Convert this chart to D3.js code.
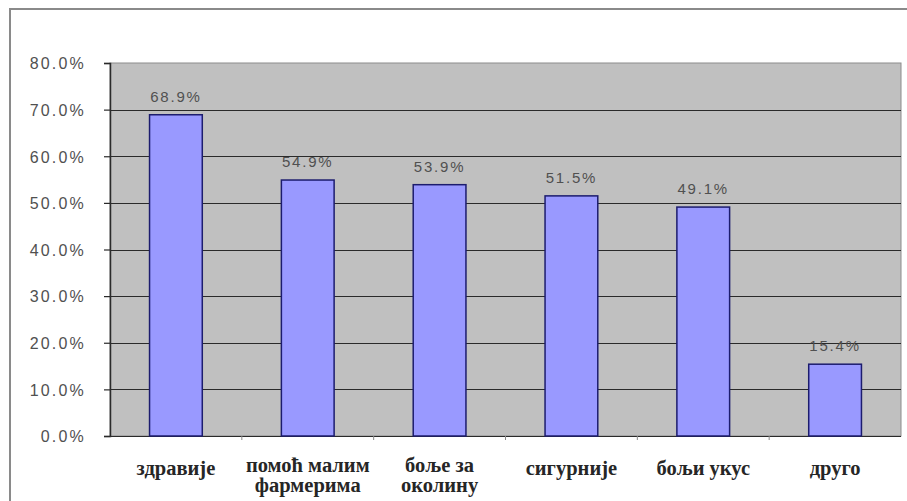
<!DOCTYPE html>
<html>
<head>
<meta charset="utf-8">
<script src="https://cdn.jsdelivr.net/npm/d3@7"></script>
<style>
  body { margin: 0; background: #fff; }
  svg { display: block; }
</style>
</head>
<body>
<div id="container"></div>
<script>
const categories = [
    ["здравије"],
    ["помоћ малим", "фармерима"],
    ["боље за", "околину"],
    ["сигурније"],
    ["бољи укус"],
    ["друго"]
];
const values = [68.9, 54.9, 53.9, 51.5, 49.1, 15.4];
const yTicks = [0, 10, 20, 30, 40, 50, 60, 70, 80];

const width = 907;
const height = 501;
const plot = { left: 110, right: 901, top: 63, bottom: 436 };

const svg = d3.select('#container').append('svg')
    .attr('width', width)
    .attr('height', height);

// outer frame
svg.append('rect')
    .attr('x', 10)
    .attr('y', 9)
    .attr('width', 905)
    .attr('height', 520)
    .attr('fill', 'none')
    .attr('stroke', '#8a8a8a')
    .attr('stroke-width', 2);

const xScale = d3.scaleBand()
    .range([plot.left, plot.right])
    .domain(d3.range(categories.length))
    .paddingInner(0.6)
    .paddingOuter(0.3);

const yScale = d3.scaleLinear()
    .range([plot.bottom, plot.top])
    .domain([0, 80]);

// plot background
svg.append('rect')
    .attr('x', plot.left)
    .attr('y', plot.top)
    .attr('width', plot.right - plot.left)
    .attr('height', plot.bottom - plot.top)
    .attr('fill', '#c0c0c0')
    .attr('stroke', '#8c8c8c')
    .attr('stroke-width', 1);

// grid lines
svg.append('g')
    .selectAll('line')
    .data(yTicks.filter(t => t > 0 && t < 80))
    .enter()
    .append('line')
    .attr('x1', plot.left)
    .attr('x2', plot.right)
    .attr('y1', d => Math.round(yScale(d)) + 0.5)
    .attr('y2', d => Math.round(yScale(d)) + 0.5)
    .attr('stroke', '#2a2a2a')
    .attr('stroke-width', 1.2);

// y axis
const yAxis = svg.append('g')
    .attr('transform', `translate(${plot.left}, 0)`)
    .call(d3.axisLeft(yScale)
        .tickValues(yTicks)
        .tickSize(6)
        .tickPadding(18)
        .tickFormat(d => d.toFixed(1) + '%'));
yAxis.attr('font-family', null).attr('font-size', null);
yAxis.select('.domain').attr('stroke', '#2a2a2a').attr('stroke-width', 1.5);
yAxis.selectAll('.tick line').attr('stroke', '#2a2a2a').attr('stroke-width', 1.2);
yAxis.selectAll('.tick text')
    .style('font-family', "'Liberation Sans'")
    .style('font-size', '16px')
    .style('letter-spacing', '2.2px')
    .attr('fill', '#505050')
    .attr('dy', '0.36em');

// x axis baseline and ticks between categories
const step = xScale.step();
const xTicks = d3.range(1, categories.length).map(i => plot.left + i * step);
svg.append('line')
    .attr('x1', plot.left)
    .attr('x2', plot.right)
    .attr('y1', plot.bottom + 0.5)
    .attr('y2', plot.bottom + 0.5)
    .attr('stroke', '#2a2a2a')
    .attr('stroke-width', 1.2);
svg.append('g')
    .selectAll('line')
    .data(xTicks)
    .enter()
    .append('line')
    .attr('x1', d => d)
    .attr('x2', d => d)
    .attr('y1', plot.bottom)
    .attr('y2', plot.bottom + 4)
    .attr('stroke', '#888');

// bars
const barGroups = svg.selectAll('.bar-group')
    .data(values)
    .enter()
    .append('g')
    .attr('class', 'bar-group');

barGroups.append('rect')
    .attr('x', (d, i) => xScale(i))
    .attr('y', d => yScale(d))
    .attr('width', xScale.bandwidth())
    .attr('height', d => plot.bottom - yScale(d))
    .attr('fill', '#9999ff')
    .attr('stroke', '#1c1c6e')
    .attr('stroke-width', 1.5);

barGroups.append('text')
    .attr('x', (d, i) => xScale(i) + xScale.bandwidth() / 2)
    .attr('y', d => yScale(d) - 13)
    .attr('text-anchor', 'middle')
    .style('font-family', "'Liberation Sans'")
    .style('font-size', '15px')
    .style('letter-spacing', '1.8px')
    .attr('fill', '#505050')
    .text(d => d.toFixed(1) + '%');

// category labels, one text per line
const catGroups = svg.selectAll('.cat')
    .data(categories)
    .enter()
    .append('g')
    .attr('class', 'cat')
    .attr('transform', (d, i) => `translate(${xScale(i) + xScale.bandwidth() / 2}, 0)`);

catGroups.selectAll('text')
    .data(d => d.map((line, j) => ({ line, j, n: d.length })))
    .enter()
    .append('text')
    .attr('text-anchor', 'middle')
    .attr('y', d => (d.n > 1 ? 472 : 475) + d.j * 20)
    .style('font-family', "'Liberation Serif'")
    .style('font-weight', 'bold')
    .style('font-size', '20.5px')
    .attr('fill', '#262626')
    .text(d => d.line);
</script>
</body>
</html>
